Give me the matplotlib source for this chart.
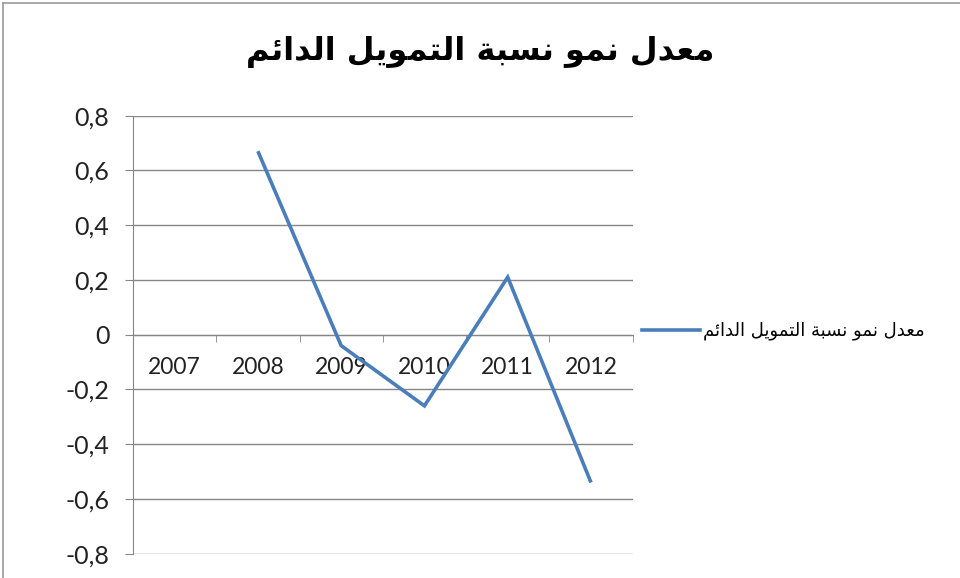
import numpy as np
import matplotlib.pyplot as plt
from matplotlib.lines import Line2D
from matplotlib.ticker import FixedLocator, FuncFormatter

# --- data ---
years = ['2007', '2008', '2009', '2010', '2011', '2012']
growth = [np.nan, 0.67, -0.04, -0.26, 0.21, -0.54]
y_ticks = [-0.8, -0.6, -0.4, -0.2, 0, 0.2, 0.4, 0.6, 0.8]
title_text = 'معدل نمو نسبة التمويل الدائم'
series_name = 'معدل نمو نسبة التمويل الدائم'

# matplotlib has no Arabic shaping, so map letters to their contextual
# presentation forms (isolated, final, initial, medial) and reverse
FORMS = {
    'ا': ('\uFE8D', '\uFE8E', None, None),
    'ب': ('\uFE8F', '\uFE90', '\uFE91', '\uFE92'),
    'ة': ('\uFE93', '\uFE94', None, None),
    'ت': ('\uFE95', '\uFE96', '\uFE97', '\uFE98'),
    'د': ('\uFEA9', '\uFEAA', None, None),
    'س': ('\uFEB1', '\uFEB2', '\uFEB3', '\uFEB4'),
    'ع': ('\uFEC9', '\uFECA', '\uFECB', '\uFECC'),
    'ل': ('\uFEDD', '\uFEDE', '\uFEDF', '\uFEE0'),
    'م': ('\uFEE1', '\uFEE2', '\uFEE3', '\uFEE4'),
    'ن': ('\uFEE5', '\uFEE6', '\uFEE7', '\uFEE8'),
    'و': ('\uFEED', '\uFEEE', None, None),
    'ي': ('\uFEF1', '\uFEF2', '\uFEF3', '\uFEF4'),
    'ئ': ('\uFE89', '\uFE8A', '\uFE8B', '\uFE8C'),
}


def shape_arabic(text):
    out = []
    for i, ch in enumerate(text):
        if ch not in FORMS:
            out.append(ch)
            continue
        prev = text[i - 1] if i > 0 else ''
        nxt = text[i + 1] if i + 1 < len(text) else ''
        joins_prev = prev in FORMS and FORMS[prev][2] is not None
        joins_next = FORMS[ch][2] is not None and nxt in FORMS
        iso, fin, ini, med = FORMS[ch]
        if joins_prev and joins_next:
            out.append(med)
        elif joins_prev:
            out.append(fin)
        elif joins_next:
            out.append(ini)
        else:
            out.append(iso)
    return ''.join(out)[::-1]


plt.rcParams['font.family'] = ['Lato', 'DejaVu Sans']

fig = plt.figure(figsize=(9.6, 5.78), dpi=100)
ax = fig.add_axes([0.1385, 0.042, 0.5205, 0.758])

x = np.arange(len(years))
ax.plot(x, growth, color='#4A7EBB', linewidth=2.6,
        solid_joinstyle='miter', solid_capstyle='butt', zorder=3)

ax.set_xlim(-0.5, len(years) - 0.5)
ax.set_ylim(-0.8, 0.8)

# horizontal gridlines
ax.yaxis.set_major_locator(FixedLocator(y_ticks))
ax.yaxis.set_major_formatter(
    FuncFormatter(lambda v, p: ('%g' % round(v, 1)).replace('.', ',')))
ax.grid(axis='y', color='#868686', linewidth=1.0)
ax.set_axisbelow(True)

for side in ['top', 'right']:
    ax.spines[side].set_visible(False)
ax.spines['left'].set_color('#868686')
ax.spines['bottom'].set_position(('data', 0))
ax.spines['bottom'].set_color('#868686')

ax.tick_params(axis='y', length=6, color='#868686', pad=11,
               labelsize=18, labelcolor='#222222')

# category labels sit below the zero line, ticks between categories
ax.set_xticks(x)
ax.set_xticklabels(years)
ax.set_xticks(np.arange(-0.5, len(years)), minor=True)
ax.tick_params(axis='x', which='major', length=0, pad=16,
               labelsize=16.5, labelcolor='#222222')
ax.tick_params(axis='x', which='minor', length=5, color='#868686')

fig.text(0.5, 0.91, shape_arabic(title_text), ha='center', va='center',
         fontsize=23, fontweight='bold', family='DejaVu Sans', color='black')

handle = Line2D([], [], color='#4A7EBB', linewidth=2.6)
fig.legend([handle], [shape_arabic(series_name)], loc='center left',
           bbox_to_anchor=(0.669, 0.427), frameon=False, borderpad=0,
           borderaxespad=0, handlelength=3.2, handletextpad=0.15,
           prop={'family': 'DejaVu Sans', 'size': 13})

# outer chart border
fig.add_artist(Line2D([0.003, 1.0], [0.995, 0.995], transform=fig.transFigure,
                      color='#9a9a9a', linewidth=1.2))
fig.add_artist(Line2D([0.003, 0.003], [0.0, 0.995], transform=fig.transFigure,
                      color='#9a9a9a', linewidth=1.2))

fig.savefig('out.png', dpi=100)
